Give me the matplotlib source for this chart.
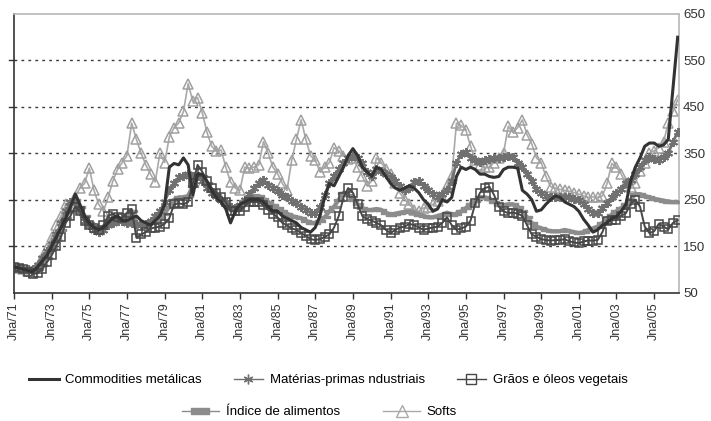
import numpy as np
import matplotlib
matplotlib.use("Agg")
import matplotlib.pyplot as plt
from matplotlib.path import Path
from matplotlib.lines import Line2D

plt.rcParams['font.family'] = ['Liberation Sans', 'DejaVu Sans']

# quarterly readings, Jan 1971 .. Apr 2006
start_year = 1971
metais = [105, 103, 100, 97, 95, 105, 118, 130, 150, 170, 190, 210, 235, 262, 240, 215,
          200, 190, 185, 190, 200, 210, 215, 205, 205, 210, 215, 205, 200, 195, 205, 215,
          240, 320, 328, 325, 340, 325, 260, 305, 305, 290, 270, 255, 245, 230, 200, 225,
          240, 245, 250, 250, 250, 245, 235, 225, 225, 215, 210, 205, 200, 190, 185, 180,
          190, 215, 255, 285, 280, 300, 320, 345, 360, 345, 320, 310, 300, 320, 315, 300,
          285, 275, 270, 275, 280, 275, 265, 250, 240, 225, 230, 250, 245, 255, 300, 320,
          315, 320, 315, 305, 305, 300, 298, 300, 315, 320, 320, 318, 270, 262, 250, 225,
          228, 240, 250, 258, 255, 245, 240, 235, 225, 208, 195, 180, 185, 195, 200, 210,
          213, 225, 240, 290, 320, 340, 365, 372, 372, 365, 368, 380, 490, 600]
materias = [105, 103, 100, 100, 100, 110, 125, 140, 155, 175, 200, 225, 245, 245, 225, 205,
            195, 185, 180, 185, 195, 200, 205, 205, 200, 200, 198, 195, 198, 205, 215, 225,
            245, 270, 285, 298, 300, 305, 300, 300, 290, 275, 265, 258, 250, 245, 235, 232,
            238, 250, 262, 275, 285, 292, 282, 275, 268, 260, 255, 248, 242, 235, 228, 222,
            222, 235, 260, 285, 300, 315, 330, 340, 345, 340, 328, 310, 300, 315, 312, 305,
            298, 290, 280, 270, 275, 288, 290, 280, 270, 262, 256, 262, 270, 290, 330, 348,
            352, 340, 335, 332, 335, 338, 340, 340, 342, 345, 342, 330, 320, 306, 290, 272,
            265, 258, 255, 256, 256, 256, 255, 252, 250, 240, 230, 222, 222, 232, 242, 255,
            265, 272, 285, 292, 305, 320, 335, 342, 338, 335, 342, 350, 375, 395]
graos = [105, 103, 100, 95, 90, 92, 100, 115, 130, 150, 170, 200, 215, 235, 225, 205,
         195, 190, 185, 195, 215, 220, 212, 210, 222, 230, 168, 175, 180, 188, 190, 192,
         198, 210, 240, 242, 240, 245, 285, 325, 310, 290, 275, 265, 255, 245, 225, 225,
         225, 235, 245, 245, 245, 238, 228, 220, 212, 200, 195, 188, 185, 178, 172, 165,
         163, 165, 170, 175, 190, 215, 255, 275, 265, 240, 215, 208, 205, 200, 195, 185,
         178, 185, 190, 192, 198, 195, 190, 185, 188, 190, 192, 200, 212, 195, 185, 188,
         192, 205, 242, 265, 275, 278, 260, 235, 225, 221, 222, 220, 215, 195, 175, 170,
         165, 163, 162, 163, 163, 165, 160, 158, 156, 160, 162, 162, 163, 180, 205, 206,
         206, 215, 221, 240, 250, 235, 192, 178, 182, 198, 192, 186, 200, 206]
alimentos = [105, 103, 100, 98, 95, 100, 110, 125, 145, 165, 185, 210, 240, 250, 235, 215,
             200, 190, 185, 190, 205, 210, 210, 208, 215, 225, 200, 195, 195, 200, 205, 210,
             220, 235, 250, 255, 255, 258, 280, 305, 300, 285, 270, 260, 250, 240, 230, 232,
             238, 248, 255, 258, 258, 252, 245, 238, 232, 225, 220, 215, 212, 210, 205, 200,
             200, 205, 212, 225, 235, 250, 265, 260, 250, 240, 232, 228, 228, 230, 228, 222,
             218, 220, 222, 224, 225, 222, 218, 215, 212, 212, 215, 218, 222, 218, 220, 225,
             232, 240, 248, 255, 255, 252, 245, 238, 238, 240, 240, 235, 225, 212, 200, 192,
             188, 185, 182, 182, 182, 185, 182, 180, 178, 180, 185, 188, 192, 200, 210, 218,
             225, 232, 240, 250, 262, 262, 258, 255, 252, 250, 248, 246, 245, 245]
softs = [105, 103, 100, 97, 95, 108, 125, 145, 170, 195, 215, 240, 235, 255, 275, 285,
         318, 270, 240, 225, 255, 290, 315, 330, 345, 415, 380, 350, 325, 305, 288, 350,
         330, 385, 405, 415, 440, 500, 462, 470, 437, 395, 365, 355, 357, 320, 288, 275,
         270, 320, 318, 320, 325, 375, 350, 320, 306, 285, 270, 335, 380, 422, 380, 345,
         335, 310, 320, 330, 362, 355, 345, 338, 340, 320, 300, 280, 290, 340, 330, 315,
         306, 285, 264, 250, 240, 228, 225, 232, 235, 240, 248, 255, 280, 300, 415, 410,
         400, 365, 335, 325, 320, 320, 330, 340, 350, 408, 395, 405, 422, 390, 370, 340,
         330, 300, 278, 275, 272, 270, 268, 265, 262, 258, 255, 256, 255, 258, 285, 328,
         320, 305, 285, 278, 285, 312, 330, 350, 355, 362, 375, 415, 440, 465]

tick_years = list(range(1971, 2006, 2))
tick_labels = ["Jna/%02d" % (y % 100) for y in tick_years]
y_ticks = [50, 150, 250, 350, 450, 550, 650]

names = ["Commodities metálicas", "Matérias-primas ndustriais", "Grãos e óleos vegetais",
         "Índice de alimentos", "Softs"]

t = start_year + 0.25 * np.arange(len(metais))

fig = plt.figure(figsize=(7.11, 4.21), dpi=100)
ax = fig.add_axes([14 / 711, 1 - 292.5 / 421, (679 - 14) / 711, (292.5 - 14) / 421])

rect = Path([(-2.2, -0.65), (2.2, -0.65), (2.2, 0.65), (-2.2, 0.65), (-2.2, -0.65)],
            [Path.MOVETO, Path.LINETO, Path.LINETO, Path.LINETO, Path.CLOSEPOLY])

for yv in [150, 250, 350, 450, 550]:
    ax.axhline(yv, color="#3c3c3c", lw=1.0, ls=(0, (2, 3)), zorder=1)

ax.plot(t, softs, color="#a9a9a9", lw=1.2, marker="^", ms=6.5, mfc="none",
        mec="#a0a0a0", mew=1.1, zorder=2)
ax.plot(t, alimentos, color="#8c8c8c", lw=3.0, marker=rect, ms=7,
        mfc="#8c8c8c", mec="#8c8c8c", zorder=3)
ax.plot(t, materias, color="#707070", lw=2.0, marker=(6, 2, 0), ms=6.5,
        mec="#707070", mew=1.4, zorder=4)
ax.plot(t, graos, color="#474747", lw=1.4, marker="s", ms=5.5, mfc="none",
        mec="#474747", mew=1.1, zorder=5)
ax.plot(t, metais, color="#333333", lw=2.2, zorder=6)

ax.set_xlim(1971, 2006.32)
ax.set_ylim(50, 650)
ax.set_xticks(tick_years)
ax.set_xticklabels(tick_labels, rotation=90, fontsize=9, color="#333333")
ax.set_yticks(y_ticks)
ax.yaxis.tick_right()
ax.tick_params(axis="y", which="both", length=0, pad=3, labelsize=9.5, labelcolor="#333333")
ax.tick_params(axis="x", length=4, width=1, color="#333333", pad=3)
for s in ["left", "bottom"]:
    ax.spines[s].set_color("#333333")
    ax.spines[s].set_linewidth(1.2)
for s in ["right", "top"]:
    ax.spines[s].set_color("#b8b8b8")
    ax.spines[s].set_linewidth(1.2)
# small tick marks on the left spine
for yv in [150, 250, 350, 450, 550]:
    ax.plot([-0.008, 0], [yv, yv], transform=ax.get_yaxis_transform(), color="#333333",
            lw=1, clip_on=False)

row1 = [Line2D([], [], color="#333333", lw=2.2),
        Line2D([], [], color="#707070", lw=1.0, marker=(6, 2, 0), ms=7, mec="#707070", mew=1.0),
        Line2D([], [], color="#474747", lw=1.0, marker="s", ms=7, mfc="none", mec="#474747")]
row2 = [Line2D([], [], color="#8c8c8c", lw=1.0, marker=rect, ms=12.5, mfc="#8c8c8c", mec="#8c8c8c"),
        Line2D([], [], color="#a9a9a9", lw=1.0, marker="^", ms=9, mfc="none", mec="#a9a9a9")]

fig.legend(row1, names[:3], loc="center left", bbox_to_anchor=(29 / 711, 1 - 380 / 421),
           ncol=3, frameon=False, fontsize=9.5, handlelength=2.25, columnspacing=2.4,
           handletextpad=0.5, borderpad=0, borderaxespad=0)
fig.legend(row2, names[3:], loc="center left", bbox_to_anchor=(182 / 711, 1 - 412 / 421),
           ncol=2, frameon=False, fontsize=9.5, handlelength=2.8, columnspacing=3.3,
           handletextpad=0.5, borderpad=0, borderaxespad=0)

fig.savefig("out.png", dpi=100)
